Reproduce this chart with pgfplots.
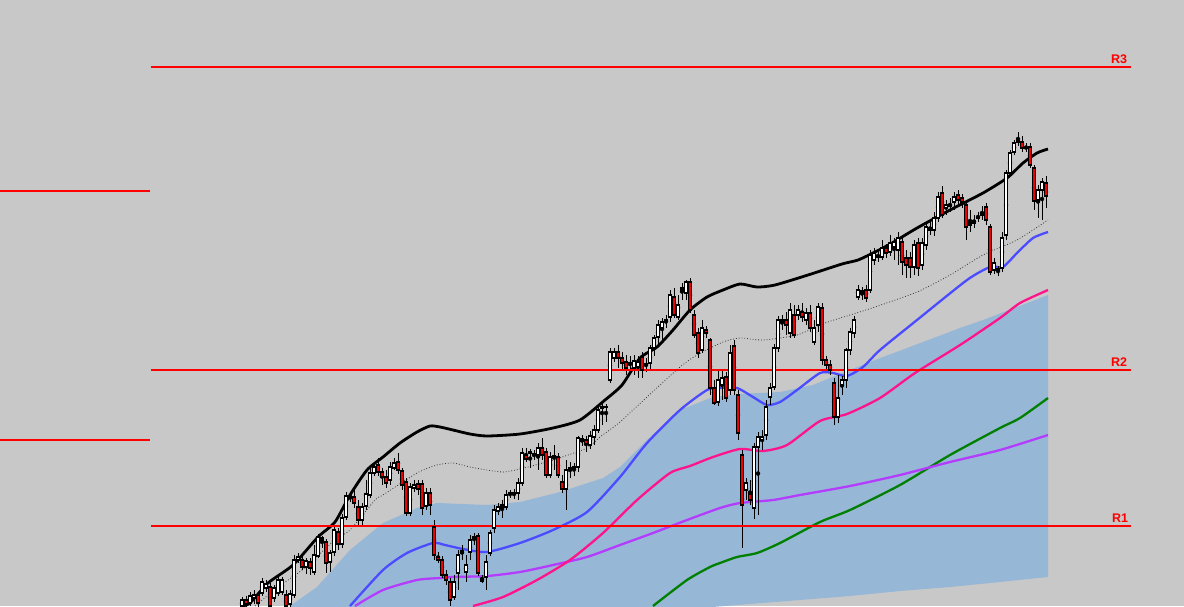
\documentclass[border=0pt]{standalone}
\usepackage{fontspec}
\setmainfont{Liberation Sans}
\usepackage{pgfplots}
\usepackage{pgfplotstable}
\pgfplotsset{compat=1.18}
\definecolor{bgcol}{RGB}{200,200,200}
\definecolor{areacol}{RGB}{151,183,214}
\definecolor{mablue}{RGB}{75,75,255}
\definecolor{mapink}{RGB}{255,20,140}
\definecolor{mapurple}{RGB}{180,60,255}
\definecolor{magreen}{RGB}{0,128,0}
\definecolor{lvlred}{RGB}{255,0,0}
\definecolor{candlered}{RGB}{240,0,0}

\pgfplotstableread{
x o h l c
242 606 597 610 600
246 600 596 610 604
250 603 592 606 596
254 598 590 604 595
258 595 592 608 603
262 593 578 596 582
266 588 580 592 584
270 587 583 612 606
274 598 585 602 588
278 593 576 596 580
282 592 577 595 580
286 595 590 612 606
290 604 590 608 594
294 595 555 598 560
298 560 553 563 557
302 560 556 570 567
306 567 558 574 561
310 562 558 575 568
314 572 545 575 555
318 556 534 558 537
322 538 536 548 540
326 542 539 573 563
330 562 550 572 553
334 552 527 556 530
338 532 528 550 544
342 544 514 548 518
346 517 492 520 496
350 496 493 502 498
354 497 490 508 503
358 507 500 527 520
362 520 503 525 507
366 506 480 510 494
370 495 468 498 473
374 473 463 476 467
378 465 458 476 472
382 472 468 485 477
386 477 470 488 483
390 480 462 485 467
394 468 458 470 463
398 462 453 474 470
402 471 468 490 485
406 482 478 516 513
410 513 483 516 487
414 488 480 492 485
418 484 480 495 489
422 484 480 515 508
426 506 488 510 493
430 493 488 515 505
434 527 520 560 555
438 557 552 563 560
442 560 556 578 575
446 575 570 585 580
450 582 578 606 600
454 597 575 600 582
458 573 550 590 555
462 551 545 560 553
466 572 555 582 565
470 552 535 560 540
474 539 533 545 537
478 536 533 576 573
482 579 575 583 581
486 577 555 590 562
490 553 530 556 533
494 528 505 533 510
498 511 503 515 507
502 507 500 518 505
506 507 490 510 495
510 494 490 498 493
514 494 489 499 493
518 493 478 500 483
522 483 448 486 453
526 455 448 462 459
530 452 449 468 453
534 455 450 460 454
538 455 443 470 448
542 448 438 460 455
546 452 448 478 475
550 475 452 478 457
554 457 445 470 456
558 457 453 478 475
562 482 475 493 489
566 489 460 510 470
570 469 462 478 468
574 467 463 476 468
578 467 436 472 438
582 441 435 446 439
586 440 436 452 444
590 445 431 449 436
594 437 425 445 430
598 430 407 433 410
602 408 401 425 407
606 407 404 422 407
610 380 348 383 352
614 358 348 362 352
618 352 345 368 358
622 358 352 370 363
626 362 355 375 368
630 363 356 372 364
634 368 355 375 361
638 367 356 378 362
642 357 352 378 370
646 365 358 372 364
650 363 345 370 348
654 348 335 356 338
658 337 320 345 325
662 328 318 340 322
666 321 315 328 320
670 317 290 322 295
674 297 288 318 315
678 317 295 320 305
682 290 283 300 288
686 293 280 300 282
690 282 278 313 310
694 315 310 338 335
698 333 328 358 353
702 350 320 353 328
706 330 326 338 333
710 340 338 395 388
714 388 380 405 403
718 402 370 406 380
722 385 370 400 378
726 377 372 402 398
730 390 345 395 353
734 346 340 395 390
738 395 390 440 433
742 455 450 548 505
746 490 478 500 483
750 494 480 505 500
754 508 443 519 447
758 447 432 515 437
762 440 430 450 437
766 435 400 440 407
770 397 383 405 388
774 387 344 390 348
778 348 316 352 320
782 321 315 330 320
786 320 312 335 325
790 333 303 338 310
794 315 305 338 335
798 315 305 320 310
802 312 303 322 317
806 320 308 325 313
810 313 305 332 328
814 342 320 345 328
818 325 303 332 307
822 308 303 365 360
826 360 356 370 365
830 365 360 375 370
834 383 378 425 417
838 417 375 423 398
842 385 376 395 380
846 380 348 388 350
850 350 328 355 332
854 333 316 338 320
858 297 285 300 290
862 292 287 300 291
866 290 285 302 298
870 290 250 293 255
874 260 248 265 253
878 257 250 262 256
882 257 240 260 248
886 248 244 258 253
890 252 235 256 243
894 247 238 260 242
898 250 232 265 238
902 242 236 275 262
906 258 250 278 265
910 258 252 278 267
914 267 240 275 245
918 243 238 276 268
922 265 238 270 243
926 245 222 250 227
930 228 222 235 230
934 230 212 236 218
938 218 192 222 197
942 193 186 218 215
946 208 200 215 205
950 206 198 212 205
954 202 192 210 197
958 195 190 205 200
962 198 194 208 202
966 205 200 240 227
970 225 210 232 223
974 221 215 228 223
978 218 212 222 217
982 215 206 220 213
986 207 203 225 220
990 227 224 275 272
994 270 258 274 263
998 270 266 276 269
1002 268 232 272 238
1006 235 170 240 173
1010 173 150 176 153
1014 152 140 155 143
1018 142 132 146 141
1022 142 136 152 148
1026 148 143 152 148
1030 147 143 168 165
1034 168 165 210 201
1038 200 185 218 190
1042 190 178 220 182
1046 183 176 208 196
}\candles
\pgfplotstablecreatecol[expr={(\thisrow{h}+\thisrow{l})/2}]{mid}{\candles}
\pgfplotstablecreatecol[expr={(\thisrow{l}-\thisrow{h})/2}]{half}{\candles}
\pgfplotstablecreatecol[expr={(\thisrow{o}+\thisrow{c})/2}]{bm}{\candles}

\begin{document}
\begin{tikzpicture}
\begin{axis}[
  scale only axis, width=1184pt, height=606pt,
  xmin=0, xmax=1184, ymin=0, ymax=606, y dir=reverse,
  axis line style={draw=none}, xtick=\empty, ytick=\empty,
  axis background/.style={fill=bgcol},
]
% shaded band
\addplot[fill=areacol, draw=none] coordinates {
(290,606) (317,587) (350,550) (383,523) (417,508) (437,503) (487,505) (520,502)
(560,492) (603,478) (620,467) (647,440) (680,410) (713,397) (740,394) (780,392)
(813,385) (842,373) (875,360) (915,345) (960,328) (983,320) (1017,307) (1048,295)
(1048,577) (1000,582) (950,587) (900,591) (850,596) (800,600) (750,604) (700,608)
(600,615) (290,625)} -- cycle;
% moving averages
\addplot[magreen, line width=2.3pt, smooth, tension=0.4] coordinates {
(653,606) (687,580) (710,567) (720,563) (737,557) (757,553) (780,543) (820,522)
(850,510) (900,485) (950,455) (1000,428) (1020,418) (1048,398)};
\addplot[mapurple, line width=2.3pt, smooth, tension=0.4] coordinates {
(355,606) (383,590) (417,580) (440,578) (453,577) (487,576) (520,572) (553,565)
(587,557) (620,545) (653,533) (687,520) (720,508) (740,503) (773,500) (800,495)
(850,486) (900,475) (950,462) (1000,450) (1048,435)};
\addplot[mapink, line width=2.3pt, smooth, tension=0.4] coordinates {
(473,606) (503,597) (537,580) (570,560) (603,533) (637,500) (670,473) (690,466)
(713,457) (740,449) (763,451) (787,445) (820,421) (847,414) (880,398) (915,373)
(960,345) (1000,318) (1020,303) (1048,290)};
\addplot[mablue, line width=2.3pt, smooth, tension=0.4] coordinates {
(350,606) (383,570) (407,553) (433,543) (445,545) (463,549) (487,552) (520,543)
(553,530) (587,512) (620,477) (647,443) (680,410) (707,390) (720,388) (737,388)
(753,397) (767,405) (780,402) (797,390) (820,373) (833,373) (847,376) (863,367)
(880,350) (917,320) (967,280) (990,267) (1003,267) (1017,253) (1033,238) (1048,232)};
\addplot[black!80, line width=0.8pt, dotted, smooth, tension=0.4] coordinates {
(255,606) (278,587) (302,570) (335,540) (350,530) (375,500) (383,495) (417,473)
(437,465) (453,463) (470,467) (487,470) (503,472) (520,469) (553,460) (587,448)
(600,437) (620,422) (647,397) (680,367) (697,355) (723,342) (740,338) (763,340)
(797,335) (825,323) (850,315) (875,307) (917,292) (950,275) (983,255) (1017,240) (1048,220)};
\addplot[black, line width=2.8pt, smooth, tension=0.4] coordinates {
(242,606) (250,603) (268,583) (293,565) (318,537) (335,522) (350,495) (367,470)
(383,457) (400,443) (417,432) (430,426) (440,427) (453,430) (470,434) (487,436)
(520,434) (553,428) (580,420) (605,400) (622,385) (640,358) (657,347) (673,330)
(690,310) (707,297) (723,290) (740,284) (757,287) (775,285) (808,275) (842,264)
(858,260) (875,252) (892,243) (917,228) (950,210) (983,193) (1007,178) (1023,163)
(1037,153) (1048,149)};
% wicks
\addplot[black, only marks, mark=none,
  error bars/.cd, y dir=both, y explicit, error mark=none,
  error bar style={black, line width=1pt}]
  table[x=x, y=mid, y error=half] {\candles};
% bodies
\addplot[only marks, mark=square*, mark size=1.7pt,
  mark options={draw=black, line width=1.1pt, fill=white},
  scatter,
  visualization depends on={\thisrow{o} \as \op},
  visualization depends on={\thisrow{c} \as \cl},
  scatter/@pre marker code/.code={%
    \pgfmathsetmacro\bh{max(abs(\cl-\op),0.9)/3.4}%
    \ifdim \cl pt>\op pt \def\bodycol{candlered}\else\def\bodycol{white}\fi
    \scope[yscale=\bh]\pgfsetfillcolor{\bodycol}%
  },
  scatter/@post marker code/.code={\endscope}]
  table[x=x, y=bm] {\candles};
% levels
\addplot[lvlred, line width=1.5pt] coordinates {(151,67) (1131,67)};
\addplot[lvlred, line width=1.5pt] coordinates {(151,370) (1131,370)};
\addplot[lvlred, line width=1.5pt] coordinates {(151,526) (1131,526)};
\addplot[lvlred, line width=1.5pt] coordinates {(0,191) (150,191)};
\addplot[lvlred, line width=1.5pt] coordinates {(0,440) (150,440)};
\node[lvlred, font=\fontsize{12.5}{12.5}\selectfont\bfseries, anchor=base] at (axis cs:1119,63.5) {R3};
\node[lvlred, font=\fontsize{12.5}{12.5}\selectfont\bfseries, anchor=base] at (axis cs:1119,366.5) {R2};
\node[lvlred, font=\fontsize{12.5}{12.5}\selectfont\bfseries, anchor=base] at (axis cs:1120,522.5) {R1};
\end{axis}
\end{tikzpicture}
\end{document}
